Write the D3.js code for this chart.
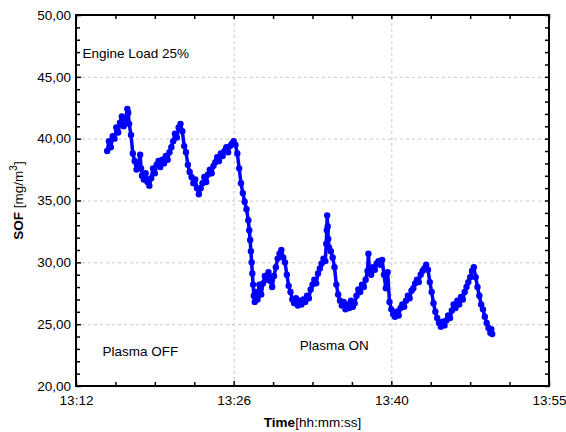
<!DOCTYPE html>
<html>
<head>
<meta charset="utf-8">
<script src="https://cdn.jsdelivr.net/npm/d3@7"></script>
<style>
  body { margin: 0; background: #fff; }
  svg { font-family: "Liberation Sans", Arial, sans-serif; }
  .grid line { stroke: #c8c8c8; stroke-dasharray: 3,3; }
  .grid path { display: none; }
</style>
</head>
<body>
<svg id="chart" width="566" height="432"></svg>
<script>
// sample times and SOF values
const times = [
  "13:14:50","13:15:00","13:15:10","13:15:20","13:15:30","13:15:40","13:15:50","13:16:00","13:16:10","13:16:20",
  "13:16:30","13:16:40","13:16:45","13:16:50","13:17:00","13:17:10","13:17:20","13:17:30","13:17:40","13:17:50",
  "13:17:55","13:18:00","13:18:10","13:18:20","13:18:30","13:18:40","13:18:50","13:19:00","13:19:10","13:19:20",
  "13:19:30","13:19:40","13:19:50","13:20:00","13:20:10","13:20:20","13:20:30","13:20:40","13:20:50","13:21:00",
  "13:21:10","13:21:20","13:21:30","13:21:40","13:21:50","13:22:00","13:22:10","13:22:20","13:22:30","13:22:40",
  "13:22:50","13:23:00","13:23:10","13:23:20","13:23:30","13:23:40","13:23:50","13:24:00","13:24:10","13:24:20",
  "13:24:30","13:24:40","13:24:50","13:25:00","13:25:10","13:25:20","13:25:30","13:25:40","13:25:50","13:26:00",
  "13:26:10","13:26:20","13:26:30","13:26:40","13:26:50","13:27:00","13:27:10","13:27:20","13:27:30","13:27:40",
  "13:27:45","13:27:50","13:27:54","13:27:58","13:28:02","13:28:06","13:28:10","13:28:15","13:28:20","13:28:30",
  "13:28:40","13:28:50","13:29:00","13:29:10","13:29:20","13:29:30","13:29:40","13:29:50","13:30:00","13:30:10",
  "13:30:20","13:30:30","13:30:40","13:30:50","13:31:00","13:31:10","13:31:20","13:31:30","13:31:40","13:31:50",
  "13:32:00","13:32:10","13:32:20","13:32:30","13:32:40","13:32:50","13:33:00","13:33:10","13:33:20","13:33:30",
  "13:33:40","13:33:50","13:34:00","13:34:10","13:34:20","13:34:30","13:34:40","13:34:45","13:34:48","13:34:50",
  "13:34:53","13:34:56","13:35:00","13:35:10","13:35:20","13:35:30","13:35:40","13:35:50","13:36:00","13:36:10",
  "13:36:20","13:36:30","13:36:40","13:36:50","13:37:00","13:37:10","13:37:20","13:37:30","13:37:40","13:37:50",
  "13:38:00","13:38:10","13:38:20","13:38:30","13:38:35","13:38:40","13:38:50","13:39:00","13:39:10","13:39:20",
  "13:39:30","13:39:40","13:39:50","13:40:00","13:40:10","13:40:20","13:40:30","13:40:40","13:40:50","13:41:00",
  "13:41:10","13:41:20","13:41:30","13:41:40","13:41:50","13:42:00","13:42:10","13:42:20","13:42:30","13:42:40",
  "13:42:50","13:43:00","13:43:10","13:43:20","13:43:30","13:43:40","13:43:50","13:44:00","13:44:10","13:44:20",
  "13:44:30","13:44:40","13:44:50","13:45:00","13:45:10","13:45:20","13:45:30","13:45:40","13:45:50","13:46:00",
  "13:46:10","13:46:20","13:46:30","13:46:40","13:46:50","13:47:00","13:47:10","13:47:20","13:47:30","13:47:40",
  "13:47:50","13:48:00","13:48:10","13:48:20","13:48:30","13:48:40","13:48:50","13:49:00","13:49:10","13:49:20",
  "13:49:30","13:49:40","13:49:45","13:49:50"
];
const sof = [
  39.0,39.8,39.3,40.2,40.0,40.9,40.5,41.3,41.8,41.0,
  41.6,42.4,42.1,41.2,40.3,38.8,38.2,37.5,37.9,38.7,
  37.6,37.0,36.7,37.2,36.5,36.2,36.8,37.6,37.2,37.9,
  38.2,37.7,38.3,38.0,38.6,38.3,38.9,39.3,39.8,40.4,
  40.1,40.9,41.2,40.6,39.4,38.9,37.9,37.3,36.9,36.4,
  36.7,36.0,35.5,36.0,36.4,36.9,36.5,37.1,37.5,37.2,
  37.8,38.1,38.5,38.2,38.8,38.6,39.0,39.3,38.9,39.4,
  39.6,39.8,39.5,38.8,37.6,36.4,35.6,34.9,34.3,33.4,
  32.6,31.8,30.9,30.0,29.1,28.2,27.3,26.8,27.6,27.0,
  28.2,27.4,28.3,28.9,28.6,29.2,28.5,28.0,28.9,29.6,
  30.3,30.7,31.0,30.4,30.0,29.0,28.1,27.6,27.0,26.7,
  27.1,26.5,26.9,26.6,27.0,26.8,27.3,27.1,27.8,28.2,
  28.6,28.3,29.1,29.5,29.9,30.3,30.1,31.5,32.6,33.8,
  32.9,31.9,31.2,30.9,30.4,29.6,28.2,27.4,26.9,26.5,
  26.8,26.2,26.6,26.3,26.9,26.4,26.7,27.3,27.8,27.6,
  28.2,28.0,28.6,29.3,30.7,29.5,29.0,29.6,29.4,29.9,
  30.1,29.8,30.2,29.0,27.9,29.2,26.8,26.2,25.8,25.6,
  26.0,25.7,26.3,26.6,26.4,26.9,27.3,27.1,27.7,27.9,
  28.3,28.6,28.4,29.0,29.3,29.5,29.8,29.4,28.4,27.6,
  26.7,26.0,25.5,25.1,24.8,25.2,24.9,25.3,25.7,25.5,
  26.1,26.6,26.3,26.9,26.6,27.2,27.0,27.6,28.0,28.4,
  28.8,29.3,29.6,28.8,28.0,27.3,26.6,26.2,25.6,25.1,
  24.7,24.3,24.6,24.2
];

const xDomain = ["13:12:00", "13:55:00"];
const xMajor = ["13:12:00", "13:26:20", "13:40:40", "13:55:00"];
const yTicks = [20, 25, 30, 35, 40, 45, 50];

const notes = [
  {text: "Engine Load 25%", t: "13:12:35", v: 46.5},
  {text: "Plasma OFF", t: "13:14:25", v: 22.4},
  {text: "Plasma ON", t: "13:32:20", v: 22.9}
];

const parse = d3.timeParse("%H:%M:%S");
const data = times.map((t, i) => ({t: parse(t), v: sof[i]}));

const svg = d3.select("#chart");
const margin = {top: 15, right: 17, bottom: 46, left: 76};
const width = 566 - margin.left - margin.right;
const height = 432 - margin.top - margin.bottom;
const g = svg.append("g").attr("transform", `translate(${margin.left},${margin.top})`);

const x = d3.scaleTime().domain(xDomain.map(parse)).range([0, width]);
const y = d3.scaleLinear().domain([20, 50]).range([height, 0]);

// minor tick positions: 4 subdivisions per major x interval, 1 unit on y
const majorT = xMajor.map(parse);
const xMinor = [];
for (let i = 0; i < majorT.length - 1; i++) {
  const a = +majorT[i], b = +majorT[i + 1];
  for (let k = 1; k < 4; k++) xMinor.push(new Date(a + (b - a) * k / 4));
}
const yMinor = d3.range(20, 50, 1).filter(v => v % 5 !== 0);

// gridlines
g.append("g").attr("class", "grid")
  .attr("transform", `translate(0,${height})`)
  .call(d3.axisBottom(x).tickValues(majorT.slice(1, -1)).tickSize(-height).tickFormat(""));
g.append("g").attr("class", "grid")
  .call(d3.axisLeft(y).tickValues(yTicks.slice(1, -1)).tickSize(-width).tickFormat(""));

// series: line plus dots
const line = d3.line().x(d => x(d.t)).y(d => y(d.v));
g.append("path")
  .datum(data)
  .attr("fill", "none")
  .attr("stroke", "#0000ff")
  .attr("stroke-width", 3.5)
  .attr("stroke-linejoin", "round")
  .attr("d", line);
g.selectAll(".dot")
  .data(data)
  .enter().append("circle")
    .attr("class", "dot")
    .attr("cx", d => x(d.t))
    .attr("cy", d => y(d.v))
    .attr("r", 3.2)
    .attr("fill", "#0000ff");

// frame with inward ticks
function tickStyle(sel) {
  sel.select(".domain").remove();
  sel.selectAll(".tick line").attr("stroke", "#000").attr("stroke-width", 1.5);
}
const fmtY = v => d3.format(".2f")(v).replace(".", ",");
const fmtX = d3.timeFormat("%H:%M");

const xb = g.append("g").attr("transform", `translate(0,${height})`)
  .call(d3.axisBottom(x).tickValues(majorT).tickSize(-5).tickPadding(9).tickFormat(fmtX));
xb.call(tickStyle);
xb.selectAll("text").attr("font-size", "13.5px").attr("fill", "#000");
g.append("g").attr("transform", `translate(0,${height})`)
  .call(d3.axisBottom(x).tickValues(xMinor).tickSize(-4).tickFormat("")).call(tickStyle);
g.append("g")
  .call(d3.axisTop(x).tickValues(majorT.concat(xMinor)).tickSize(-4).tickFormat("")).call(tickStyle);

const yl = g.append("g")
  .call(d3.axisLeft(y).tickValues(yTicks).tickSize(-5).tickPadding(5).tickFormat(fmtY));
yl.call(tickStyle);
yl.selectAll("text").attr("font-size", "13.5px").attr("fill", "#000");
g.append("g").call(d3.axisLeft(y).tickValues(yMinor).tickSize(-4).tickFormat("")).call(tickStyle);
g.append("g").attr("transform", `translate(${width},0)`)
  .call(d3.axisRight(y).tickValues(yTicks.concat(yMinor)).tickSize(-4).tickFormat("")).call(tickStyle);

g.append("rect")
  .attr("width", width).attr("height", height)
  .attr("fill", "none").attr("stroke", "#000").attr("stroke-width", 2);

// annotations
g.selectAll(".note")
  .data(notes)
  .enter().append("text")
    .attr("x", d => x(parse(d.t)))
    .attr("y", d => y(d.v))
    .attr("font-size", "13.5px")
    .attr("fill", "#000")
    .text(d => d.text);

// axis titles
const xt = svg.append("text")
  .attr("x", margin.left + width / 2)
  .attr("y", 427)
  .attr("text-anchor", "middle")
  .attr("font-size", "13.5px");
xt.append("tspan").attr("font-weight", "bold").text("Time");
xt.append("tspan").text("[hh:mm:ss]");

const yt = svg.append("text")
  .attr("transform", `translate(23,${margin.top + height / 2}) rotate(-90)`)
  .attr("text-anchor", "middle")
  .attr("font-size", "13.5px");
yt.append("tspan").attr("font-weight", "bold").text("SOF");
yt.append("tspan").text(" [mg/m");
yt.append("tspan").attr("font-size", "10px").attr("dy", -6).text("3");
yt.append("tspan").attr("dy", 6).text("]");
</script>
</body>
</html>
